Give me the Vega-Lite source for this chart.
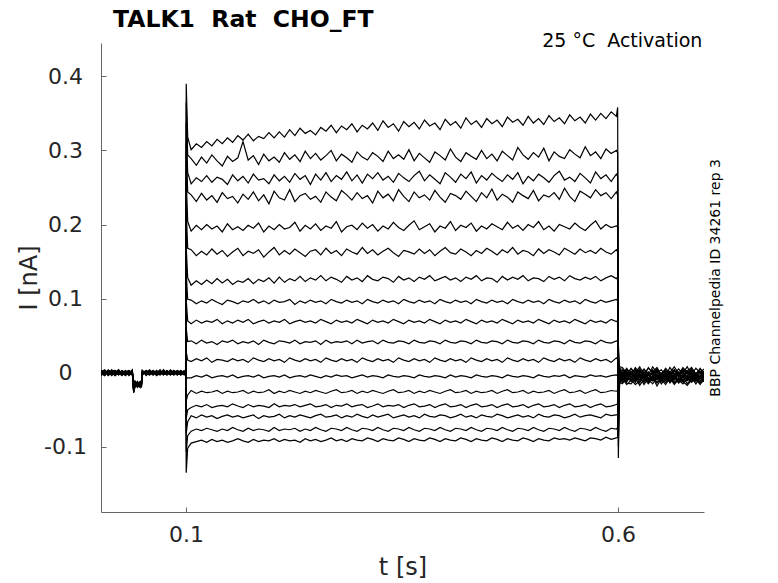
{
"$schema":"https://vega.github.io/schema/vega-lite/v6.json",
"width":603,"height":469,
"autosize":{"type":"none"},
"padding":{"left":101,"top":43,"right":74,"bottom":71},
"background":"white",
"config":{"view":{"stroke":null},"font":"DejaVu Sans",
"axis":{"domainColor":"#666666","tickColor":"#666666","labelColor":"#262626","titleColor":"#262626","grid":false,"labelFont":"DejaVu Sans","titleFont":"DejaVu Sans","labelFontSize":22,"titleFontSize":24,"titleFontWeight":"normal","tickSize":-5,"domainWidth":1,"tickWidth":1}},
"datasets":{"traces":[
{"t":0.0017,"a":0.002,"b":-0.001,"c":0.003,"d":0,"e":-0.003,"f":0.001,"g":-0.002,"h":0.004,"i":0,"j":-0.001,"k":0.002,"l":-0.004,"m":0.001,"n":0.003,"o":-0.002,"p":0,"q":-0.001},
{"t":0.006,"a":-0.003,"b":0.002,"c":0,"d":-0.002,"e":0.001,"f":0.004,"g":-0.001,"h":-0.003,"i":0.002,"j":0,"k":-0.002,"l":0.001,"m":0.003,"n":-0.001,"o":0,"p":0.002,"q":-0.004},
{"t":0.010,"a":0.001,"b":-0.004,"c":0.002,"d":0.003,"e":-0.001,"f":-0.002,"g":0,"h":0.001,"i":-0.003,"j":0.002,"k":0.004,"l":-0.001,"m":-0.002,"n":0,"o":0.003,"p":-0.003,"q":0.001},
{"t":0.014,"a":-0.002,"b":0,"c":-0.003,"d":0.001,"e":0.002,"f":0,"g":0.003,"h":-0.002,"i":0.001,"j":-0.004,"k":0,"l":0.002,"m":-0.001,"n":-0.003,"o":0.001,"p":0.004,"q":0},
{"t":0.018,"a":0.003,"b":0.001,"c":-0.001,"d":-0.004,"e":0,"f":-0.003,"g":0.001,"h":0.002,"i":-0.002,"j":0.001,"k":-0.001,"l":0.003,"m":0,"n":0.002,"o":-0.004,"p":-0.001,"q":0.002},
{"t":0.022,"a":0,"b":-0.002,"c":0.004,"d":0.002,"e":-0.002,"f":0.001,"g":-0.003,"h":0,"i":0.003,"j":-0.002,"k":0.001,"l":-0.002,"m":0.004,"n":-0.001,"o":0,"p":0.001,"q":-0.003},
{"t":0.026,"a":-0.001,"b":0.003,"c":-0.002,"d":0,"e":0.003,"f":-0.001,"g":0.002,"h":-0.004,"i":0,"j":0.003,"k":-0.003,"l":0,"m":-0.002,"n":0.001,"o":0.002,"p":-0.002,"q":0.001},
{"t":0.030,"a":0.002,"b":-0.001,"c":0.001,"d":-0.003,"e":-0.001,"f":0.003,"g":0,"h":0.001,"i":-0.002,"j":0,"k":0.002,"l":-0.003,"m":0.001,"n":-0.004,"o":-0.001,"p":0.003,"q":0},
{"t":0.034,"a":-0.004,"b":0,"c":-0.002,"d":0.002,"e":0.001,"f":-0.002,"g":-0.001,"h":0.003,"i":0.001,"j":-0.001,"k":0,"l":0.002,"m":-0.003,"n":0,"o":0.002,"p":-0.001,"q":0.003},
{"t":0.038,"a":0.001,"b":0.002,"c":0,"d":-0.001,"e":-0.003,"f":0,"g":0.004,"h":-0.001,"i":-0.002,"j":0.002,"k":-0.001,"l":0.001,"m":0,"n":0.003,"o":-0.002,"p":0,"q":-0.002},
{"t":0.0395,"a":-0.022,"b":-0.025,"c":-0.020,"d":-0.027,"e":-0.018,"f":-0.024,"g":-0.021,"h":-0.026,"i":-0.019,"j":-0.023,"k":-0.025,"l":-0.020,"m":-0.022,"n":-0.024,"o":-0.027,"p":-0.021,"q":-0.019},
{"t":0.041,"a":-0.014,"b":-0.017,"c":-0.012,"d":-0.019,"e":-0.015,"f":-0.013,"g":-0.018,"h":-0.016,"i":-0.011,"j":-0.020,"k":-0.014,"l":-0.017,"m":-0.013,"n":-0.018,"o":-0.015,"p":-0.012,"q":-0.016},
{"t":0.044,"a":-0.017,"b":-0.013,"c":-0.019,"d":-0.015,"e":-0.012,"f":-0.018,"g":-0.014,"h":-0.020,"i":-0.016,"j":-0.013,"k":-0.019,"l":-0.015,"m":-0.017,"n":-0.012,"o":-0.018,"p":-0.014,"q":-0.016},
{"t":0.047,"a":-0.013,"b":-0.018,"c":-0.015,"d":-0.012,"e":-0.019,"f":-0.014,"g":-0.017,"h":-0.013,"i":-0.020,"j":-0.016,"k":-0.012,"l":-0.018,"m":-0.014,"n":-0.019,"o":-0.013,"p":-0.017,"q":-0.015},
{"t":0.0485,"a":-0.016,"b":-0.012,"c":-0.018,"d":-0.014,"e":-0.013,"f":-0.017,"g":-0.015,"h":-0.019,"i":-0.012,"j":-0.014,"k":-0.018,"l":-0.013,"m":-0.016,"n":-0.015,"o":-0.020,"p":-0.013,"q":-0.017},
{"t":0.0495,"a":0.001,"b":-0.002,"c":0.003,"d":0,"e":-0.001,"f":0.002,"g":-0.003,"h":0.001,"i":0,"j":-0.002,"k":0.002,"l":-0.001,"m":0.003,"n":-0.003,"o":0,"p":0.001,"q":-0.002},
{"t":0.054,"a":-0.002,"b":0.003,"c":-0.001,"d":0.002,"e":0,"f":-0.003,"g":0.001,"h":-0.002,"i":0.003,"j":0.001,"k":-0.001,"l":0,"m":-0.004,"n":0.002,"o":0.001,"p":-0.002,"q":0},
{"t":0.058,"a":0.003,"b":0,"c":-0.002,"d":-0.003,"e":0.002,"f":0.001,"g":-0.001,"h":0,"i":-0.002,"j":0.003,"k":-0.003,"l":0.002,"m":0.001,"n":-0.001,"o":-0.002,"p":0,"q":0.004},
{"t":0.062,"a":0,"b":-0.003,"c":0.001,"d":0.002,"e":-0.002,"f":-0.001,"g":0.003,"h":-0.003,"i":0.001,"j":0,"k":0.002,"l":-0.002,"m":0,"n":0.003,"o":-0.001,"p":0.002,"q":-0.001},
{"t":0.066,"a":-0.001,"b":0.002,"c":-0.004,"d":0,"e":0.003,"f":0.002,"g":-0.002,"h":0.001,"i":-0.001,"j":-0.003,"k":0,"l":0.003,"m":-0.002,"n":0,"o":0.002,"p":-0.003,"q":0.001},
{"t":0.070,"a":0.002,"b":-0.001,"c":0,"d":0.003,"e":-0.003,"f":0,"g":0.001,"h":-0.001,"i":0.004,"j":-0.002,"k":0.001,"l":-0.001,"m":0.002,"n":-0.002,"o":0,"p":0.001,"q":-0.003},
{"t":0.074,"a":-0.003,"b":0.001,"c":0.002,"d":-0.001,"e":0.001,"f":-0.002,"g":0,"h":0.003,"i":-0.002,"j":0.001,"k":-0.003,"l":0,"m":-0.001,"n":0.004,"o":-0.002,"p":0,"q":0.002},
{"t":0.078,"a":0.001,"b":-0.002,"c":-0.001,"d":0.002,"e":0,"f":0.003,"g":-0.003,"h":0,"i":0.002,"j":-0.001,"k":0.002,"l":-0.002,"m":0.003,"n":-0.001,"o":0.001,"p":-0.003,"q":0},
{"t":0.082,"a":0,"b":0.003,"c":-0.002,"d":-0.003,"e":0.002,"f":-0.001,"g":0.001,"h":-0.002,"i":0,"j":0.004,"k":-0.001,"l":0.001,"m":-0.002,"n":0,"o":-0.003,"p":0.002,"q":-0.001},
{"t":0.086,"a":-0.002,"b":0,"c":0.003,"d":0.001,"e":-0.001,"f":0.002,"g":-0.002,"h":0.001,"i":-0.003,"j":0,"k":0.003,"l":-0.003,"m":0.001,"n":0.002,"o":0,"p":-0.001,"q":0.003},
{"t":0.090,"a":0.003,"b":-0.003,"c":0,"d":-0.002,"e":0.001,"f":-0.001,"g":0.002,"h":0,"i":0.001,"j":-0.002,"k":-0.001,"l":0.002,"m":-0.003,"n":0.001,"o":-0.002,"p":0.003,"q":0},
{"t":0.094,"a":-0.001,"b":0.001,"c":-0.003,"d":0.002,"e":-0.002,"f":0,"g":-0.001,"h":0.003,"i":-0.001,"j":0.001,"k":0,"l":-0.002,"m":0.002,"n":-0.003,"o":0.003,"p":0,"q":-0.002},
{"t":0.098,"a":0.002,"b":-0.002,"c":0.001,"d":-0.001,"e":0,"f":0.003,"g":0,"h":-0.002,"i":0.002,"j":-0.003,"k":0.001,"l":0.001,"m":-0.001,"n":0,"o":-0.001,"p":-0.002,"q":0.002},
{"t":0.0998,"a":0,"b":0.001,"c":-0.001,"d":0.002,"e":-0.002,"f":0,"g":0.001,"h":-0.001,"i":0,"j":0.002,"k":-0.001,"l":0,"m":0.001,"n":-0.002,"o":0,"p":0.001,"q":-0.001},
{"t":0.1003,"a":0.390,"b":0.365,"c":0.338,"d":0.310,"e":0.262,"f":0.220,"g":0.170,"h":0.135,"i":0.098,"j":0.060,"k":0.028,"l":-0.008,"m":-0.038,"n":-0.062,"o":-0.082,"p":-0.107,"q":-0.135},
{"t":0.102,"a":0.318,"b":0.294,"c":0.270,"d":0.244,"e":0.204,"f":0.168,"g":0.128,"h":0.099,"i":0.070,"j":0.042,"k":0.017,"l":-0.007,"m":-0.030,"n":-0.050,"o":-0.066,"p":-0.085,"q":-0.102},
{"t":0.106,"a":0.301,"b":0.289,"c":0.255,"d":0.240,"e":0.191,"f":0.166,"g":0.118,"h":0.098,"i":0.066,"j":0.043,"k":0.015,"l":-0.007,"m":-0.024,"n":-0.047,"o":-0.058,"p":-0.079,"q":-0.095},
{"t":0.112,"a":0.309,"b":0.280,"c":0.263,"d":0.231,"e":0.199,"f":0.158,"g":0.124,"h":0.093,"i":0.071,"j":0.039,"k":0.019,"l":-0.004,"m":-0.028,"n":-0.044,"o":-0.061,"p":-0.076,"q":-0.093},
{"t":0.118,"a":0.304,"b":0.291,"c":0.258,"d":0.242,"e":0.193,"f":0.164,"g":0.119,"h":0.097,"i":0.067,"j":0.044,"k":0.016,"l":-0.006,"m":-0.025,"n":-0.046,"o":-0.057,"p":-0.078,"q":-0.091},
{"t":0.124,"a":0.312,"b":0.283,"c":0.266,"d":0.233,"e":0.200,"f":0.159,"g":0.125,"h":0.094,"i":0.070,"j":0.040,"k":0.020,"l":-0.003,"m":-0.027,"n":-0.043,"o":-0.060,"p":-0.075,"q":-0.094},
{"t":0.130,"a":0.306,"b":0.294,"c":0.257,"d":0.239,"e":0.194,"f":0.167,"g":0.120,"h":0.099,"i":0.068,"j":0.042,"k":0.014,"l":-0.007,"m":-0.026,"n":-0.047,"o":-0.058,"p":-0.077,"q":-0.090},
{"t":0.136,"a":0.315,"b":0.286,"c":0.264,"d":0.230,"e":0.198,"f":0.160,"g":0.127,"h":0.095,"i":0.072,"j":0.038,"k":0.018,"l":-0.005,"m":-0.024,"n":-0.045,"o":-0.062,"p":-0.079,"q":-0.093},
{"t":0.142,"a":0.309,"b":0.279,"c":0.261,"d":0.243,"e":0.190,"f":0.165,"g":0.121,"h":0.092,"i":0.066,"j":0.043,"k":0.017,"l":-0.004,"m":-0.028,"n":-0.044,"o":-0.059,"p":-0.076,"q":-0.091},
{"t":0.148,"a":0.317,"b":0.292,"c":0.254,"d":0.235,"e":0.201,"f":0.157,"g":0.126,"h":0.098,"i":0.070,"j":0.041,"k":0.015,"l":-0.006,"m":-0.025,"n":-0.046,"o":-0.057,"p":-0.078,"q":-0.094},
{"t":0.154,"a":0.311,"b":0.285,"c":0.267,"d":0.238,"e":0.193,"f":0.163,"g":0.119,"h":0.096,"i":0.067,"j":0.044,"k":0.019,"l":-0.003,"m":-0.027,"n":-0.042,"o":-0.060,"p":-0.074,"q":-0.092},
{"t":0.160,"a":0.320,"b":0.290,"c":0.259,"d":0.229,"e":0.197,"f":0.168,"g":0.124,"h":0.093,"i":0.071,"j":0.039,"k":0.016,"l":-0.007,"m":-0.026,"n":-0.045,"o":-0.058,"p":-0.077,"q":-0.089},
{"t":0.166,"a":0.314,"b":0.312,"c":0.265,"d":0.241,"e":0.192,"f":0.158,"g":0.122,"h":0.097,"i":0.068,"j":0.042,"k":0.018,"l":-0.005,"m":-0.024,"n":-0.047,"o":-0.061,"p":-0.079,"q":-0.092},
{"t":0.172,"a":0.322,"b":0.287,"c":0.256,"d":0.234,"e":0.199,"f":0.164,"g":0.127,"h":0.095,"i":0.072,"j":0.040,"k":0.014,"l":-0.004,"m":-0.028,"n":-0.043,"o":-0.059,"p":-0.075,"q":-0.094},
{"t":0.178,"a":0.313,"b":0.293,"c":0.268,"d":0.244,"e":0.195,"f":0.161,"g":0.120,"h":0.099,"i":0.066,"j":0.043,"k":0.020,"l":-0.006,"m":-0.025,"n":-0.046,"o":-0.057,"p":-0.078,"q":-0.090},
{"t":0.184,"a":0.319,"b":0.281,"c":0.260,"d":0.232,"e":0.202,"f":0.166,"g":0.126,"h":0.094,"i":0.069,"j":0.038,"k":0.017,"l":-0.003,"m":-0.027,"n":-0.044,"o":-0.062,"p":-0.076,"q":-0.093},
{"t":0.190,"a":0.316,"b":0.295,"c":0.262,"d":0.240,"e":0.190,"f":0.156,"g":0.123,"h":0.097,"i":0.071,"j":0.044,"k":0.015,"l":-0.007,"m":-0.026,"n":-0.045,"o":-0.058,"p":-0.077,"q":-0.091},
{"t":0.196,"a":0.324,"b":0.286,"c":0.255,"d":0.228,"e":0.198,"f":0.163,"g":0.128,"h":0.093,"i":0.067,"j":0.041,"k":0.019,"l":-0.005,"m":-0.023,"n":-0.047,"o":-0.060,"p":-0.079,"q":-0.092},
{"t":0.202,"a":0.317,"b":0.291,"c":0.267,"d":0.245,"e":0.193,"f":0.169,"g":0.121,"h":0.098,"i":0.070,"j":0.039,"k":0.016,"l":-0.004,"m":-0.028,"n":-0.042,"o":-0.059,"p":-0.074,"q":-0.089},
{"t":0.208,"a":0.325,"b":0.284,"c":0.259,"d":0.236,"e":0.200,"f":0.159,"g":0.129,"h":0.095,"i":0.068,"j":0.043,"k":0.018,"l":-0.006,"m":-0.025,"n":-0.046,"o":-0.056,"p":-0.078,"q":-0.093},
{"t":0.214,"a":0.318,"b":0.297,"c":0.265,"d":0.233,"e":0.194,"f":0.165,"g":0.122,"h":0.096,"i":0.072,"j":0.042,"k":0.014,"l":-0.003,"m":-0.027,"n":-0.044,"o":-0.061,"p":-0.076,"q":-0.090},
{"t":0.220,"a":0.328,"b":0.288,"c":0.257,"d":0.247,"e":0.196,"f":0.160,"g":0.127,"h":0.099,"i":0.066,"j":0.040,"k":0.020,"l":-0.007,"m":-0.024,"n":-0.045,"o":-0.058,"p":-0.077,"q":-0.092},
{"t":0.226,"a":0.320,"b":0.294,"c":0.269,"d":0.231,"e":0.203,"f":0.167,"g":0.124,"h":0.092,"i":0.069,"j":0.044,"k":0.017,"l":-0.005,"m":-0.026,"n":-0.043,"o":-0.060,"p":-0.075,"q":-0.091},
{"t":0.232,"a":0.330,"b":0.285,"c":0.261,"d":0.239,"e":0.191,"f":0.162,"g":0.130,"h":0.097,"i":0.071,"j":0.039,"k":0.015,"l":-0.004,"m":-0.028,"n":-0.046,"o":-0.057,"p":-0.079,"q":-0.094},
{"t":0.238,"a":0.323,"b":0.299,"c":0.266,"d":0.242,"e":0.199,"f":0.157,"g":0.123,"h":0.094,"i":0.068,"j":0.042,"k":0.019,"l":-0.006,"m":-0.025,"n":-0.044,"o":-0.059,"p":-0.076,"q":-0.089},
{"t":0.244,"a":0.327,"b":0.289,"c":0.254,"d":0.234,"e":0.194,"f":0.164,"g":0.128,"h":0.098,"i":0.070,"j":0.041,"k":0.016,"l":-0.003,"m":-0.027,"n":-0.042,"o":-0.061,"p":-0.078,"q":-0.092},
{"t":0.250,"a":0.321,"b":0.296,"c":0.268,"d":0.238,"e":0.201,"f":0.166,"g":0.125,"h":0.095,"i":0.067,"j":0.043,"k":0.018,"l":-0.005,"m":-0.024,"n":-0.046,"o":-0.058,"p":-0.074,"q":-0.090},
{"t":0.256,"a":0.331,"b":0.287,"c":0.260,"d":0.230,"e":0.192,"f":0.159,"g":0.131,"h":0.097,"i":0.072,"j":0.038,"k":0.014,"l":-0.007,"m":-0.026,"n":-0.045,"o":-0.056,"p":-0.077,"q":-0.093},
{"t":0.262,"a":0.326,"b":0.293,"c":0.270,"d":0.244,"e":0.198,"f":0.168,"g":0.124,"h":0.093,"i":0.069,"j":0.044,"k":0.020,"l":-0.004,"m":-0.028,"n":-0.043,"o":-0.060,"p":-0.079,"q":-0.091},
{"t":0.268,"a":0.334,"b":0.300,"c":0.258,"d":0.237,"e":0.195,"f":0.161,"g":0.129,"h":0.099,"i":0.066,"j":0.040,"k":0.017,"l":-0.006,"m":-0.025,"n":-0.047,"o":-0.059,"p":-0.075,"q":-0.088},
{"t":0.274,"a":0.324,"b":0.286,"c":0.266,"d":0.232,"e":0.204,"f":0.165,"g":0.126,"h":0.096,"i":0.071,"j":0.042,"k":0.015,"l":-0.003,"m":-0.023,"n":-0.044,"o":-0.057,"p":-0.076,"q":-0.092},
{"t":0.280,"a":0.333,"b":0.295,"c":0.261,"d":0.246,"e":0.190,"f":0.158,"g":0.122,"h":0.094,"i":0.068,"j":0.041,"k":0.019,"l":-0.005,"m":-0.027,"n":-0.045,"o":-0.061,"p":-0.078,"q":-0.090},
{"t":0.286,"a":0.328,"b":0.290,"c":0.271,"d":0.240,"e":0.197,"f":0.167,"g":0.130,"h":0.098,"i":0.070,"j":0.043,"k":0.016,"l":-0.004,"m":-0.026,"n":-0.042,"o":-0.058,"p":-0.074,"q":-0.093},
{"t":0.292,"a":0.336,"b":0.284,"c":0.259,"d":0.233,"e":0.199,"f":0.163,"g":0.125,"h":0.095,"i":0.067,"j":0.039,"k":0.018,"l":-0.007,"m":-0.024,"n":-0.046,"o":-0.060,"p":-0.077,"q":-0.089},
{"t":0.298,"a":0.325,"b":0.298,"c":0.267,"d":0.243,"e":0.193,"f":0.160,"g":0.128,"h":0.097,"i":0.072,"j":0.044,"k":0.014,"l":-0.005,"m":-0.028,"n":-0.044,"o":-0.056,"p":-0.079,"q":-0.091},
{"t":0.304,"a":0.334,"b":0.291,"c":0.256,"d":0.235,"e":0.202,"f":0.169,"g":0.123,"h":0.093,"i":0.069,"j":0.040,"k":0.020,"l":-0.003,"m":-0.025,"n":-0.043,"o":-0.059,"p":-0.075,"q":-0.092},
{"t":0.310,"a":0.329,"b":0.287,"c":0.268,"d":0.239,"e":0.195,"f":0.161,"g":0.131,"h":0.099,"i":0.066,"j":0.042,"k":0.017,"l":-0.006,"m":-0.027,"n":-0.047,"o":-0.061,"p":-0.076,"q":-0.088},
{"t":0.316,"a":0.337,"b":0.297,"c":0.262,"d":0.229,"e":0.200,"f":0.166,"g":0.126,"h":0.096,"i":0.071,"j":0.043,"k":0.015,"l":-0.004,"m":-0.024,"n":-0.045,"o":-0.057,"p":-0.078,"q":-0.090},
{"t":0.322,"a":0.327,"b":0.292,"c":0.270,"d":0.245,"e":0.191,"f":0.159,"g":0.124,"h":0.094,"i":0.068,"j":0.039,"k":0.019,"l":-0.005,"m":-0.026,"n":-0.042,"o":-0.060,"p":-0.074,"q":-0.093},
{"t":0.328,"a":0.340,"b":0.285,"c":0.260,"d":0.236,"e":0.198,"f":0.164,"g":0.129,"h":0.098,"i":0.070,"j":0.044,"k":0.016,"l":-0.007,"m":-0.028,"n":-0.046,"o":-0.058,"p":-0.077,"q":-0.089},
{"t":0.334,"a":0.331,"b":0.299,"c":0.265,"d":0.241,"e":0.194,"f":0.168,"g":0.127,"h":0.095,"i":0.067,"j":0.041,"k":0.018,"l":-0.003,"m":-0.025,"n":-0.044,"o":-0.056,"p":-0.079,"q":-0.091},
{"t":0.340,"a":0.336,"b":0.289,"c":0.257,"d":0.232,"e":0.203,"f":0.162,"g":0.122,"h":0.097,"i":0.072,"j":0.040,"k":0.014,"l":-0.005,"m":-0.023,"n":-0.045,"o":-0.061,"p":-0.075,"q":-0.092},
{"t":0.346,"a":0.326,"b":0.294,"c":0.269,"d":0.247,"e":0.196,"f":0.157,"g":0.130,"h":0.093,"i":0.069,"j":0.043,"k":0.020,"l":-0.006,"m":-0.027,"n":-0.043,"o":-0.059,"p":-0.076,"q":-0.088},
{"t":0.352,"a":0.339,"b":0.288,"c":0.263,"d":0.238,"e":0.192,"f":0.165,"g":0.125,"h":0.099,"i":0.066,"j":0.042,"k":0.017,"l":-0.004,"m":-0.026,"n":-0.047,"o":-0.057,"p":-0.078,"q":-0.090},
{"t":0.358,"a":0.332,"b":0.301,"c":0.258,"d":0.231,"e":0.199,"f":0.163,"g":0.128,"h":0.096,"i":0.071,"j":0.039,"k":0.015,"l":-0.005,"m":-0.024,"n":-0.044,"o":-0.060,"p":-0.074,"q":-0.093},
{"t":0.364,"a":0.338,"b":0.286,"c":0.266,"d":0.244,"e":0.205,"f":0.160,"g":0.123,"h":0.094,"i":0.068,"j":0.044,"k":0.019,"l":-0.007,"m":-0.028,"n":-0.042,"o":-0.058,"p":-0.077,"q":-0.089},
{"t":0.370,"a":0.329,"b":0.296,"c":0.272,"d":0.236,"e":0.193,"f":0.167,"g":0.129,"h":0.098,"i":0.070,"j":0.041,"k":0.016,"l":-0.003,"m":-0.025,"n":-0.046,"o":-0.061,"p":-0.079,"q":-0.091},
{"t":0.376,"a":0.341,"b":0.290,"c":0.259,"d":0.240,"e":0.197,"f":0.161,"g":0.126,"h":0.095,"i":0.067,"j":0.040,"k":0.018,"l":-0.005,"m":-0.027,"n":-0.045,"o":-0.056,"p":-0.075,"q":-0.092},
{"t":0.382,"a":0.333,"b":0.284,"c":0.267,"d":0.233,"e":0.201,"f":0.166,"g":0.131,"h":0.097,"i":0.072,"j":0.043,"k":0.014,"l":-0.006,"m":-0.024,"n":-0.043,"o":-0.059,"p":-0.076,"q":-0.088},
{"t":0.388,"a":0.337,"b":0.298,"c":0.261,"d":0.246,"e":0.190,"f":0.158,"g":0.124,"h":0.093,"i":0.069,"j":0.042,"k":0.020,"l":-0.004,"m":-0.026,"n":-0.047,"o":-0.060,"p":-0.078,"q":-0.090},
{"t":0.394,"a":0.328,"b":0.293,"c":0.255,"d":0.237,"e":0.198,"f":0.164,"g":0.127,"h":0.099,"i":0.066,"j":0.039,"k":0.017,"l":-0.005,"m":-0.028,"n":-0.044,"o":-0.057,"p":-0.074,"q":-0.093},
{"t":0.400,"a":0.342,"b":0.287,"c":0.270,"d":0.230,"e":0.195,"f":0.169,"g":0.130,"h":0.096,"i":0.071,"j":0.044,"k":0.015,"l":-0.007,"m":-0.025,"n":-0.042,"o":-0.058,"p":-0.077,"q":-0.089},
{"t":0.406,"a":0.334,"b":0.302,"c":0.264,"d":0.242,"e":0.204,"f":0.162,"g":0.125,"h":0.094,"i":0.068,"j":0.041,"k":0.019,"l":-0.003,"m":-0.023,"n":-0.046,"o":-0.061,"p":-0.079,"q":-0.091},
{"t":0.412,"a":0.339,"b":0.291,"c":0.257,"d":0.239,"e":0.192,"f":0.160,"g":0.128,"h":0.098,"i":0.070,"j":0.040,"k":0.016,"l":-0.006,"m":-0.027,"n":-0.045,"o":-0.059,"p":-0.075,"q":-0.092},
{"t":0.418,"a":0.330,"b":0.285,"c":0.268,"d":0.234,"e":0.199,"f":0.167,"g":0.123,"h":0.095,"i":0.067,"j":0.043,"k":0.018,"l":-0.004,"m":-0.026,"n":-0.043,"o":-0.056,"p":-0.076,"q":-0.088},
{"t":0.424,"a":0.344,"b":0.297,"c":0.262,"d":0.245,"e":0.196,"f":0.163,"g":0.129,"h":0.097,"i":0.072,"j":0.042,"k":0.014,"l":-0.005,"m":-0.024,"n":-0.047,"o":-0.060,"p":-0.078,"q":-0.090},
{"t":0.430,"a":0.335,"b":0.292,"c":0.271,"d":0.238,"e":0.202,"f":0.158,"g":0.126,"h":0.093,"i":0.069,"j":0.039,"k":0.020,"l":-0.007,"m":-0.028,"n":-0.044,"o":-0.058,"p":-0.074,"q":-0.093},
{"t":0.436,"a":0.340,"b":0.288,"c":0.256,"d":0.231,"e":0.191,"f":0.165,"g":0.131,"h":0.099,"i":0.066,"j":0.044,"k":0.017,"l":-0.003,"m":-0.025,"n":-0.042,"o":-0.061,"p":-0.077,"q":-0.089},
{"t":0.442,"a":0.331,"b":0.300,"c":0.266,"d":0.243,"e":0.198,"f":0.161,"g":0.124,"h":0.096,"i":0.071,"j":0.041,"k":0.015,"l":-0.005,"m":-0.027,"n":-0.046,"o":-0.057,"p":-0.079,"q":-0.091},
{"t":0.448,"a":0.343,"b":0.289,"c":0.260,"d":0.236,"e":0.194,"f":0.168,"g":0.128,"h":0.094,"i":0.068,"j":0.040,"k":0.019,"l":-0.006,"m":-0.026,"n":-0.045,"o":-0.059,"p":-0.075,"q":-0.092},
{"t":0.454,"a":0.336,"b":0.295,"c":0.269,"d":0.248,"e":0.201,"f":0.164,"g":0.127,"h":0.098,"i":0.070,"j":0.043,"k":0.016,"l":-0.004,"m":-0.024,"n":-0.043,"o":-0.060,"p":-0.076,"q":-0.088},
{"t":0.460,"a":0.341,"b":0.286,"c":0.263,"d":0.233,"e":0.197,"f":0.159,"g":0.122,"h":0.095,"i":0.067,"j":0.042,"k":0.018,"l":-0.005,"m":-0.028,"n":-0.047,"o":-0.056,"p":-0.078,"q":-0.090},
{"t":0.466,"a":0.332,"b":0.299,"c":0.258,"d":0.241,"e":0.193,"f":0.166,"g":0.130,"h":0.097,"i":0.072,"j":0.039,"k":0.014,"l":-0.007,"m":-0.025,"n":-0.044,"o":-0.058,"p":-0.074,"q":-0.093},
{"t":0.472,"a":0.345,"b":0.293,"c":0.267,"d":0.237,"e":0.203,"f":0.162,"g":0.125,"h":0.093,"i":0.069,"j":0.044,"k":0.020,"l":-0.003,"m":-0.023,"n":-0.042,"o":-0.061,"p":-0.077,"q":-0.089},
{"t":0.478,"a":0.338,"b":0.287,"c":0.261,"d":0.230,"e":0.195,"f":0.169,"g":0.129,"h":0.099,"i":0.066,"j":0.041,"k":0.017,"l":-0.005,"m":-0.027,"n":-0.046,"o":-0.059,"p":-0.079,"q":-0.091},
{"t":0.484,"a":0.342,"b":0.304,"c":0.270,"d":0.244,"e":0.199,"f":0.160,"g":0.126,"h":0.096,"i":0.071,"j":0.040,"k":0.015,"l":-0.006,"m":-0.026,"n":-0.045,"o":-0.057,"p":-0.075,"q":-0.092},
{"t":0.490,"a":0.334,"b":0.294,"c":0.255,"d":0.239,"e":0.192,"f":0.165,"g":0.131,"h":0.094,"i":0.068,"j":0.043,"k":0.019,"l":-0.004,"m":-0.024,"n":-0.043,"o":-0.060,"p":-0.076,"q":-0.088},
{"t":0.496,"a":0.346,"b":0.288,"c":0.265,"d":0.235,"e":0.200,"f":0.163,"g":0.124,"h":0.098,"i":0.070,"j":0.042,"k":0.016,"l":-0.005,"m":-0.028,"n":-0.047,"o":-0.058,"p":-0.078,"q":-0.090},
{"t":0.502,"a":0.337,"b":0.297,"c":0.259,"d":0.246,"e":0.196,"f":0.158,"g":0.128,"h":0.095,"i":0.067,"j":0.039,"k":0.018,"l":-0.007,"m":-0.025,"n":-0.044,"o":-0.061,"p":-0.074,"q":-0.093},
{"t":0.508,"a":0.343,"b":0.291,"c":0.268,"d":0.232,"e":0.204,"f":0.167,"g":0.127,"h":0.097,"i":0.072,"j":0.044,"k":0.014,"l":-0.003,"m":-0.027,"n":-0.042,"o":-0.056,"p":-0.077,"q":-0.089},
{"t":0.514,"a":0.335,"b":0.303,"c":0.263,"d":0.240,"e":0.193,"f":0.161,"g":0.123,"h":0.093,"i":0.069,"j":0.041,"k":0.020,"l":-0.005,"m":-0.026,"n":-0.046,"o":-0.059,"p":-0.079,"q":-0.091},
{"t":0.520,"a":0.347,"b":0.286,"c":0.257,"d":0.237,"e":0.198,"f":0.166,"g":0.130,"h":0.099,"i":0.066,"j":0.040,"k":0.017,"l":-0.006,"m":-0.024,"n":-0.045,"o":-0.060,"p":-0.075,"q":-0.092},
{"t":0.526,"a":0.339,"b":0.298,"c":0.266,"d":0.243,"e":0.191,"f":0.163,"g":0.126,"h":0.096,"i":0.071,"j":0.043,"k":0.015,"l":-0.004,"m":-0.028,"n":-0.043,"o":-0.057,"p":-0.076,"q":-0.088},
{"t":0.532,"a":0.344,"b":0.292,"c":0.272,"d":0.234,"e":0.200,"f":0.159,"g":0.129,"h":0.094,"i":0.068,"j":0.042,"k":0.019,"l":-0.005,"m":-0.025,"n":-0.047,"o":-0.058,"p":-0.078,"q":-0.090},
{"t":0.538,"a":0.336,"b":0.289,"c":0.260,"d":0.249,"e":0.197,"f":0.168,"g":0.124,"h":0.098,"i":0.070,"j":0.039,"k":0.016,"l":-0.003,"m":-0.023,"n":-0.044,"o":-0.061,"p":-0.074,"q":-0.089},
{"t":0.544,"a":0.348,"b":0.301,"c":0.264,"d":0.238,"e":0.194,"f":0.164,"g":0.131,"h":0.095,"i":0.067,"j":0.044,"k":0.018,"l":-0.007,"m":-0.027,"n":-0.042,"o":-0.059,"p":-0.077,"q":-0.091},
{"t":0.550,"a":0.340,"b":0.295,"c":0.258,"d":0.231,"e":0.202,"f":0.160,"g":0.127,"h":0.097,"i":0.072,"j":0.041,"k":0.014,"l":-0.004,"m":-0.026,"n":-0.046,"o":-0.056,"p":-0.079,"q":-0.088},
{"t":0.556,"a":0.345,"b":0.290,"c":0.269,"d":0.245,"e":0.196,"f":0.167,"g":0.125,"h":0.093,"i":0.069,"j":0.040,"k":0.020,"l":-0.005,"m":-0.024,"n":-0.045,"o":-0.060,"p":-0.075,"q":-0.090},
{"t":0.562,"a":0.337,"b":0.305,"c":0.263,"d":0.241,"e":0.192,"f":0.162,"g":0.129,"h":0.099,"i":0.066,"j":0.043,"k":0.017,"l":-0.006,"m":-0.028,"n":-0.043,"o":-0.058,"p":-0.076,"q":-0.092},
{"t":0.568,"a":0.349,"b":0.293,"c":0.256,"d":0.236,"e":0.199,"f":0.165,"g":0.126,"h":0.096,"i":0.071,"j":0.042,"k":0.015,"l":-0.003,"m":-0.025,"n":-0.047,"o":-0.057,"p":-0.078,"q":-0.088},
{"t":0.574,"a":0.341,"b":0.298,"c":0.271,"d":0.247,"e":0.205,"f":0.161,"g":0.130,"h":0.094,"i":0.068,"j":0.039,"k":0.019,"l":-0.005,"m":-0.023,"n":-0.044,"o":-0.059,"p":-0.074,"q":-0.089},
{"t":0.580,"a":0.350,"b":0.289,"c":0.262,"d":0.239,"e":0.194,"f":0.168,"g":0.124,"h":0.098,"i":0.070,"j":0.044,"k":0.016,"l":-0.004,"m":-0.027,"n":-0.042,"o":-0.061,"p":-0.077,"q":-0.091},
{"t":0.586,"a":0.343,"b":0.302,"c":0.267,"d":0.243,"e":0.200,"f":0.163,"g":0.128,"h":0.095,"i":0.067,"j":0.041,"k":0.018,"l":-0.006,"m":-0.026,"n":-0.046,"o":-0.056,"p":-0.079,"q":-0.087},
{"t":0.592,"a":0.352,"b":0.296,"c":0.258,"d":0.235,"e":0.196,"f":0.160,"g":0.131,"h":0.097,"i":0.072,"j":0.040,"k":0.014,"l":-0.004,"m":-0.024,"n":-0.045,"o":-0.058,"p":-0.075,"q":-0.090},
{"t":0.598,"a":0.346,"b":0.300,"c":0.268,"d":0.244,"e":0.198,"f":0.166,"g":0.127,"h":0.099,"i":0.069,"j":0.043,"k":0.020,"l":-0.003,"m":-0.025,"n":-0.043,"o":-0.057,"p":-0.076,"q":-0.088},
{"t":0.5995,"a":0.358,"b":0.297,"c":0.265,"d":0.240,"e":0.197,"f":0.163,"g":0.129,"h":0.097,"i":0.070,"j":0.042,"k":0.018,"l":-0.004,"m":-0.024,"n":-0.042,"o":-0.056,"p":-0.074,"q":-0.087},
{"t":0.6003,"a":-0.115,"b":-0.100,"c":-0.088,"d":-0.075,"e":-0.062,"f":-0.050,"g":-0.038,"h":-0.027,"i":-0.018,"j":-0.009,"k":-0.002,"l":0.006,"m":0.013,"n":0.020,"o":0.026,"p":0.033,"q":0.040},
{"t":0.602,"a":0.008,"b":0.006,"c":0.005,"d":0.003,"e":0.002,"f":0,"g":-0.001,"h":-0.002,"i":-0.004,"j":-0.005,"k":-0.006,"l":-0.007,"m":-0.009,"n":-0.010,"o":-0.012,"p":-0.013,"q":-0.015},
{"t":0.605,"a":0.007,"b":-0.002,"c":0.005,"d":-0.004,"e":0.003,"f":-0.006,"g":0.001,"h":-0.008,"i":-0.001,"j":-0.010,"k":-0.003,"l":-0.011,"m":-0.002,"n":-0.013,"o":-0.006,"p":-0.015,"q":-0.008},
{"t":0.610,"a":-0.001,"b":0.006,"c":-0.003,"d":0.004,"e":-0.005,"f":0.002,"g":-0.007,"h":0,"i":-0.009,"j":-0.002,"k":-0.011,"l":-0.004,"m":-0.012,"n":-0.005,"o":-0.014,"p":-0.007,"q":-0.016},
{"t":0.615,"a":0.005,"b":-0.003,"c":0.006,"d":-0.002,"e":0.002,"f":-0.007,"g":0,"h":-0.001,"i":-0.008,"j":-0.004,"k":-0.001,"l":-0.012,"m":-0.005,"n":-0.006,"o":-0.015,"p":-0.009,"q":-0.010},
{"t":0.620,"a":0,"b":0.007,"c":-0.002,"d":0.005,"e":-0.004,"f":0.003,"g":-0.008,"h":-0.006,"i":-0.002,"j":-0.011,"k":-0.007,"l":-0.003,"m":-0.013,"n":-0.004,"o":-0.008,"p":-0.016,"q":-0.007},
{"t":0.625,"a":0.008,"b":-0.001,"c":0.004,"d":-0.005,"e":0.005,"f":-0.003,"g":0.002,"h":-0.009,"i":-0.004,"j":-0.001,"k":-0.010,"l":-0.006,"m":-0.002,"n":-0.014,"o":-0.005,"p":-0.011,"q":-0.017},
{"t":0.630,"a":-0.002,"b":0.005,"c":-0.004,"d":0.003,"e":-0.006,"f":0.001,"g":-0.005,"h":-0.001,"i":-0.010,"j":-0.007,"k":-0.003,"l":-0.013,"m":-0.008,"n":-0.003,"o":-0.016,"p":-0.006,"q":-0.009},
{"t":0.635,"a":0.006,"b":-0.003,"c":0.007,"d":0,"e":0.001,"f":-0.008,"g":-0.002,"h":-0.007,"i":-0.003,"j":-0.002,"k":-0.012,"l":-0.002,"m":-0.011,"n":-0.009,"o":-0.007,"p":-0.015,"q":-0.014},
{"t":0.640,"a":0.001,"b":0.008,"c":-0.001,"d":-0.003,"e":-0.004,"f":0.004,"g":-0.007,"h":0,"i":-0.009,"j":-0.010,"k":-0.004,"l":-0.010,"m":-0.004,"n":-0.015,"o":-0.011,"p":-0.008,"q":-0.006},
{"t":0.645,"a":0.007,"b":0,"c":0.005,"d":0.004,"e":0.003,"f":-0.005,"g":0.001,"h":-0.010,"i":-0.001,"j":-0.003,"k":-0.009,"l":-0.005,"m":-0.014,"n":-0.006,"o":-0.004,"p":-0.013,"q":-0.018},
{"t":0.650,"a":-0.003,"b":0.004,"c":-0.003,"d":-0.002,"e":-0.007,"f":0,"g":-0.006,"h":-0.002,"i":-0.008,"j":-0.009,"k":-0.002,"l":-0.012,"m":-0.006,"n":-0.010,"o":-0.015,"p":-0.009,"q":-0.008},
{"t":0.655,"a":0.005,"b":-0.004,"c":0.006,"d":0.003,"e":0.002,"f":-0.006,"g":0,"h":-0.008,"i":-0.004,"j":-0.001,"k":-0.011,"l":-0.004,"m":-0.010,"n":-0.004,"o":-0.008,"p":-0.016,"q":-0.013},
{"t":0.660,"a":0,"b":0.007,"c":-0.002,"d":-0.004,"e":-0.003,"f":0.002,"g":-0.008,"h":-0.001,"i":-0.009,"j":-0.008,"k":-0.005,"l":-0.011,"m":-0.003,"n":-0.014,"o":-0.012,"p":-0.007,"q":-0.007},
{"t":0.665,"a":0.008,"b":-0.002,"c":0.004,"d":0.002,"e":0.004,"f":-0.004,"g":-0.001,"h":-0.009,"i":-0.002,"j":-0.004,"k":-0.010,"l":-0.003,"m":-0.013,"n":-0.007,"o":-0.005,"p":-0.014,"q":-0.016},
{"t":0.670,"a":-0.001,"b":0.005,"c":-0.004,"d":-0.003,"e":-0.006,"f":0.001,"g":-0.005,"h":0,"i":-0.010,"j":-0.009,"k":-0.001,"l":-0.013,"m":-0.007,"n":-0.011,"o":-0.014,"p":-0.010,"q":-0.009},
{"t":0.675,"a":0.006,"b":-0.001,"c":0.007,"d":0.004,"e":0.001,"f":-0.007,"g":0.002,"h":-0.007,"i":-0.003,"j":-0.002,"k":-0.012,"l":-0.006,"m":-0.011,"n":-0.005,"o":-0.009,"p":-0.015,"q":-0.012},
{"t":0.680,"a":0.002,"b":0.008,"c":-0.001,"d":-0.002,"e":-0.005,"f":0.003,"g":-0.007,"h":-0.003,"i":-0.008,"j":-0.010,"k":-0.004,"l":-0.009,"m":-0.005,"n":-0.015,"o":-0.011,"p":-0.008,"q":-0.017},
{"t":0.685,"a":0.007,"b":-0.003,"c":0.005,"d":0.003,"e":0.003,"f":-0.005,"g":0,"h":-0.010,"i":-0.001,"j":-0.005,"k":-0.008,"l":-0.004,"m":-0.012,"n":-0.008,"o":-0.006,"p":-0.013,"q":-0.010},
{"t":0.690,"a":-0.002,"b":0.006,"c":-0.002,"d":-0.004,"e":-0.004,"f":0,"g":-0.006,"h":-0.001,"i":-0.009,"j":-0.007,"k":-0.003,"l":-0.012,"m":-0.006,"n":-0.010,"o":-0.015,"p":-0.009,"q":-0.008},
{"t":0.695,"a":0.005,"b":0,"c":0.006,"d":0.002,"e":0.002,"f":-0.006,"g":0.001,"h":-0.008,"i":-0.004,"j":-0.001,"k":-0.011,"l":-0.005,"m":-0.013,"n":-0.004,"o":-0.007,"p":-0.016,"q":-0.014},
{"t":0.6994,"a":0.001,"b":0.005,"c":-0.003,"d":-0.001,"e":-0.003,"f":0.002,"g":-0.005,"h":-0.002,"i":-0.007,"j":-0.008,"k":-0.005,"l":-0.010,"m":-0.004,"n":-0.012,"o":-0.012,"p":-0.008,"q":-0.011}
]},
"encoding":{
"x":{"field":"t","type":"quantitative","scale":{"domain":[0.0017,0.6994],"nice":false,"zero":false},"axis":{"values":[0.1,0.6],"format":".1f","title":"t [s]","labelPadding":17,"titlePadding":10}},
"y":{"field":"I","type":"quantitative","scale":{"domain":[-0.188,0.445],"nice":false,"zero":false},"axis":{"values":[-0.1,0,0.1,0.2,0.3,0.4],"labelExpr":"datum.value == 0 ? '0' : (datum.value < 0 ? '-' + format(-datum.value, '.1f') : format(datum.value, '.1f'))","labelAlign":"center","labelPadding":41,"title":"I [nA]","titlePadding":2}}
},
"layer":[
{"data":{"name":"traces"},"transform":[{"fold":["a","b","c","d","e","f","g","h","i","j","k","l","m","n","o","p","q"],"as":["trace","I"]}],
"mark":{"type":"line","color":"#000000","strokeWidth":1.2,"clip":true},
"encoding":{"detail":{"field":"trace"}}},
{"data":{"values":[{"t":0.0156,"I":0.4663,"label":"TALK1 \u00a0Rat \u00a0CHO_FT"}]},
"mark":{"type":"text","align":"left","baseline":"alphabetic","fontSize":23.5,"fontWeight":"bold","font":"DejaVu Sans","color":"#000000"},
"encoding":{"text":{"field":"label"}}},
{"data":{"values":[{"t":0.6975,"I":0.439,"label":"25 °C \u00a0Activation"}]},
"mark":{"type":"text","align":"right","baseline":"alphabetic","fontSize":19,"font":"DejaVu Sans","color":"#000000"},
"encoding":{"text":{"field":"label"}}},
{"data":{"values":[{"t":0.7133,"I":0.128,"label":"BBP Channelpedia ID 34261 rep 3"}]},
"mark":{"type":"text","angle":270,"align":"center","baseline":"middle","fontSize":14,"font":"DejaVu Sans","color":"#000000"},
"encoding":{"text":{"field":"label"}}}
]
}
